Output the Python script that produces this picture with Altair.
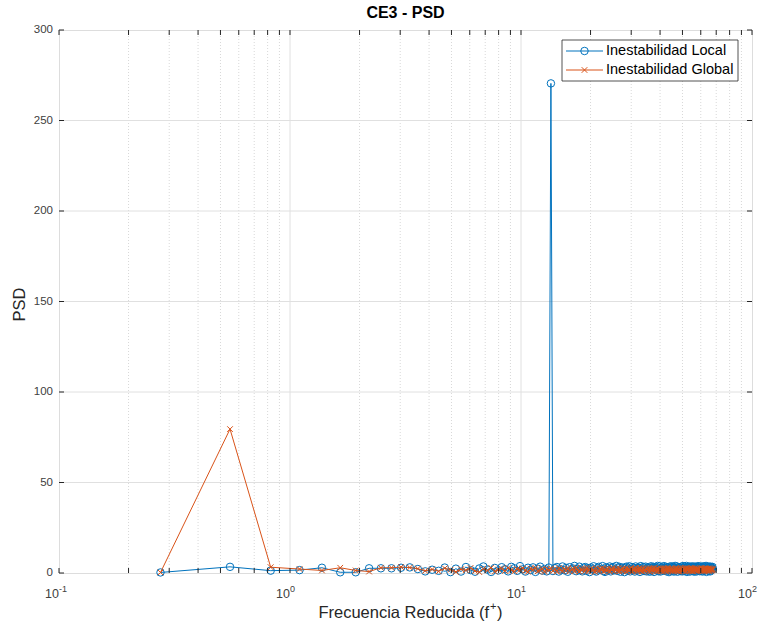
import altair as alt
import pandas as pd

# Reduced frequency bins (f+)
FREQ = [
    0.275, 0.55, 0.825, 1.1, 1.375, 1.65, 1.925, 2.2,
    2.475, 2.75, 3.025, 3.3, 3.575, 3.85, 4.125, 4.4,
    4.675, 4.95, 5.225, 5.5, 5.775, 6.05, 6.325, 6.6,
    6.875, 7.15, 7.425, 7.7, 7.975, 8.25, 8.525, 8.8,
    9.075, 9.35, 9.625, 9.9, 10.175, 10.45, 10.725, 11.0,
    11.275, 11.55, 11.825, 12.1, 12.375, 12.65, 12.925, 13.2,
    13.475, 13.75, 14.025, 14.3, 14.575, 14.85, 15.125, 15.4,
    15.675, 15.95, 16.225, 16.5, 16.775, 17.05, 17.325, 17.6,
    17.875, 18.15, 18.425, 18.7, 18.975, 19.25, 19.525, 19.8,
    20.075, 20.35, 20.625, 20.9, 21.175, 21.45, 21.725, 22.0,
    22.275, 22.55, 22.825, 23.1, 23.375, 23.65, 23.925, 24.2,
    24.475, 24.75, 25.025, 25.3, 25.575, 25.85, 26.125, 26.4,
    26.675, 26.95, 27.225, 27.5, 27.775, 28.05, 28.325, 28.6,
    28.875, 29.15, 29.425, 29.7, 29.975, 30.25, 30.525, 30.8,
    31.075, 31.35, 31.625, 31.9, 32.175, 32.45, 32.725, 33.0,
    33.275, 33.55, 33.825, 34.1, 34.375, 34.65, 34.925, 35.2,
    35.475, 35.75, 36.025, 36.3, 36.575, 36.85, 37.125, 37.4,
    37.675, 37.95, 38.225, 38.5, 38.775, 39.05, 39.325, 39.6,
    39.875, 40.15, 40.425, 40.7, 40.975, 41.25, 41.525, 41.8,
    42.075, 42.35, 42.625, 42.9, 43.175, 43.45, 43.725, 44.0,
    44.275, 44.55, 44.825, 45.1, 45.375, 45.65, 45.925, 46.2,
    46.475, 46.75, 47.025, 47.3, 47.575, 47.85, 48.125, 48.4,
    48.675, 48.95, 49.225, 49.5, 49.775, 50.05, 50.325, 50.6,
    50.875, 51.15, 51.425, 51.7, 51.975, 52.25, 52.525, 52.8,
    53.075, 53.35, 53.625, 53.9, 54.175, 54.45, 54.725, 55.0,
    55.275, 55.55, 55.825, 56.1, 56.375, 56.65, 56.925, 57.2,
    57.475, 57.75, 58.025, 58.3, 58.575, 58.85, 59.125, 59.4,
    59.675, 59.95, 60.225, 60.5, 60.775, 61.05, 61.325, 61.6,
    61.875, 62.15, 62.425, 62.7, 62.975, 63.25, 63.525, 63.8,
    64.075, 64.35, 64.625, 64.9, 65.175, 65.45, 65.725, 66.0,
    66.275, 66.55, 66.825, 67.1, 67.375, 67.65,
]

# PSD - local instability
PSD_LOCAL = [
    0.3, 3.4, 1.3, 1.6, 2.9, 0.4, 0.4, 2.6,
    2.6, 2.6, 2.9, 3.1, 2.2, 0.9, 1.8, 1.2,
    3.0, 0.5, 2.4, 0.8, 3.3, 1.6, 0.7, 2.5,
    3.6, 1.9, 0.6, 2.8, 1.4, 3.2, 2.1, 0.9,
    3.4, 2.6, 1.2, 3.8, 2.0, 0.8, 2.9, 1.7,
    3.1, 0.6, 2.4, 3.5, 1.3, 2.2, 0.9, 3.0,
    270.5, 1.1, 2.7, 3.3, 0.8, 2.0, 3.6, 1.5,
    2.8, 0.7, 3.2, 1.9, 2.5, 3.9, 1.0, 2.3,
    3.5, 1.6, 0.9, 2.9, 3.3, 1.2, 2.6, 0.5,
    3.0, 2.1, 3.7, 1.4, 0.8, 2.7, 3.4, 1.8,
    2.2, 3.8, 1.1, 0.6, 3.1, 2.5, 1.7, 3.6,
    0.9, 2.8, 3.3, 1.5, 2.0, 3.9, 1.2, 2.6,
    3.4, 0.7, 2.3, 3.0, 1.8, 0.5, 2.9, 3.5,
    1.3, 2.4, 3.7, 0.9, 2.1, 3.2, 1.6, 2.8,
    0.8, 3.6, 2.2, 1.4, 3.0, 2.7, 0.6, 3.8,
    1.9, 2.5, 3.3, 1.1, 2.0, 3.5, 0.9, 2.6,
    3.1, 1.5, 0.7, 2.9, 3.7, 1.2, 2.3, 3.4,
    0.6, 2.8, 3.2, 1.7, 2.4, 3.9, 1.0, 2.1,
    3.6, 0.8, 2.6, 3.0, 1.4, 2.2, 3.8, 1.3,
    2.7, 3.4, 0.9, 1.9, 3.1, 2.5, 0.5, 3.5,
    1.6, 2.9, 3.7, 1.1, 2.3, 3.3, 0.8, 2.8,
    3.9, 1.4, 2.0, 3.6, 0.7, 2.6, 3.2, 1.8,
    2.4, 3.0, 1.0, 3.5, 2.1, 0.9, 3.8, 1.5,
    2.7, 3.4, 1.2, 2.2, 3.9, 0.6, 2.9, 3.1,
    1.7, 2.5, 3.6, 0.8, 2.0, 3.3, 1.3, 2.8,
    3.7, 1.1, 2.4, 3.0, 0.7, 3.5, 1.9, 2.6,
    3.2, 0.9, 2.1, 3.8, 1.6, 2.7, 3.4, 1.0,
    2.3, 3.6, 1.4, 2.9, 3.1, 0.8, 2.5, 3.7,
    1.2, 2.8, 3.3, 1.7, 2.0, 3.9, 0.6, 2.4,
    3.5, 1.5, 2.6, 3.0, 1.1, 2.2, 3.6, 0.9,
    2.7, 3.2, 1.8, 2.9, 3.4, 2.1,
]

# PSD - global instability
PSD_GLOBAL = [
    0.3, 79.5, 3.2, 2.2, 1.4, 2.9, 1.4, 0.8,
    2.9, 2.9, 3.3, 3.0, 2.4, 1.2, 2.0, 0.9,
    2.6, 1.8, 0.6, 2.1, 1.5, 2.8, 1.1, 0.5,
    2.3, 1.4, 2.9, 0.8, 1.9, 2.5, 1.2, 2.7,
    1.6, 0.9, 2.2, 1.8, 2.6, 1.3, 0.7, 2.4,
    1.9, 2.8, 1.0, 1.5, 2.3, 0.6, 2.1, 1.7,
    2.5, 1.2, 2.0, 0.8, 2.7, 1.6, 1.1, 2.2,
    1.4, 2.6, 0.9, 1.8, 2.3, 1.0, 2.9, 1.5,
    0.7, 2.1, 1.7, 2.5, 1.2, 2.8, 0.9, 1.9,
    2.4, 1.3, 2.0, 0.6, 2.6, 1.8, 1.1, 2.3,
    1.5, 2.7, 0.8, 2.0, 1.4, 2.5, 1.9, 0.7,
    2.2, 1.6, 2.9, 1.0, 1.8, 2.4, 1.2, 2.6,
    0.9, 2.0, 1.5, 2.7, 1.1, 1.9, 2.5, 0.8,
    2.3, 1.4, 2.1, 1.7, 2.8, 0.7, 1.6, 2.4,
    1.2, 2.6, 1.9, 0.9, 2.2, 1.5, 2.9, 1.3,
    2.0, 0.8, 2.5, 1.7, 1.1, 2.3, 1.8, 2.7,
    1.4, 2.1, 0.7, 2.6, 1.9, 1.2, 2.4, 1.6,
    2.8, 1.0, 1.7, 2.2, 0.9, 2.5, 1.3, 2.0,
    1.8, 2.7, 1.1, 1.5, 2.3, 0.8, 2.6, 1.9,
    1.2, 2.4, 2.0, 0.7, 2.8, 1.6, 1.4, 2.2,
    2.5, 1.3, 1.9, 2.6, 1.0, 2.1, 1.7, 0.9,
    2.3, 1.8, 2.7, 1.2, 1.5, 2.4, 0.8, 2.0,
    1.6, 2.9, 1.1, 2.2, 1.8, 1.4, 2.6, 1.0,
    2.1, 1.5, 2.4, 0.9, 2.7, 1.9, 1.3, 2.5,
    1.8, 2.2, 1.0, 2.6, 1.4, 2.0, 2.8, 1.2,
    2.4, 0.9, 1.7, 2.3, 1.6, 2.7, 1.1, 2.0,
    1.3, 2.5, 2.1, 1.0, 2.4, 1.8, 2.2, 1.5,
    2.6, 1.2, 1.9, 2.8, 1.4, 2.1, 0.9, 2.3,
    1.7, 2.4, 1.1, 2.0, 2.6, 1.5, 2.2, 1.3,
    2.5, 1.9, 1.6, 2.3, 1.0, 2.7, 1.4, 2.1,
    1.8, 2.4, 1.2, 2.0, 1.6, 2.2,
]

SERIES_NAMES = ["Inestabilidad Local", "Inestabilidad Global"]
TITLE = "CE3 - PSD"
# x title is split so the "+" can be drawn as a superscript
X_TITLE_PARTS = ["Frecuencia Reducida (f", "+", ")"]
Y_TITLE = "PSD"
X_MAJOR = [0.1, 1, 10, 100]
X_MAJOR_EXP = ["-1", "0", "1", "2"]
X_MINOR = [0.2, 0.3, 0.4, 0.5, 0.6, 0.7, 0.8, 0.9,
           2, 3, 4, 5, 6, 7, 8, 9,
           20, 30, 40, 50, 60, 70, 80, 90]
Y_TICKS = [0, 50, 100, 150, 200, 250, 300]

BLUE = "#0072BD"
ORANGE = "#D95319"
AXIS = "#262626"
LABEL = "#404040"
GRID = "#e0e0e0"
FONT = "Liberation Sans"
W, H = 693, 543
TICK = 5
X_SHAPE = "M-1,-1L1,1M-1,1L1,-1"

df = pd.DataFrame({"f": FREQ, "local": PSD_LOCAL, "global": PSD_GLOBAL})

xscale = alt.Scale(type="log", domain=[0.1, 100], nice=False)
yscale = alt.Scale(domain=[0, 300], nice=False)
X = alt.X("f:Q", scale=xscale, axis=None)


def Y(field):
    return alt.Y(f"{field}:Q", scale=yscale, axis=None)


# grid: solid at decades / y ticks, dotted at minor log positions
minor_grid = alt.Chart(pd.DataFrame({"f": X_MINOR})).mark_rule(
    color="#d8d8d8", strokeDash=[1, 2], strokeWidth=1
).encode(x=X, y=alt.value(0), y2=alt.value(H))
major_grid = alt.Chart(pd.DataFrame({"f": X_MAJOR[1:3]})).mark_rule(
    color=GRID, strokeWidth=1
).encode(x=X, y=alt.value(0), y2=alt.value(H))
yt_df = pd.DataFrame({"v": Y_TICKS})
y_grid = alt.Chart(pd.DataFrame({"v": Y_TICKS[1:-1]})).mark_rule(
    color=GRID, strokeWidth=1
).encode(y=Y("v"), x=alt.value(0), x2=alt.value(W))

# data series
base = alt.Chart(df)
local_line = base.mark_line(color=BLUE, strokeWidth=1).encode(x=X, y=Y("local"))
local_pts = base.mark_point(
    shape="circle", filled=False, color=BLUE, size=56, strokeWidth=1, opacity=1
).encode(x=X, y=Y("local"))
global_line = base.mark_line(color=ORANGE, strokeWidth=1).encode(x=X, y=Y("global"))
global_pts = base.mark_point(
    shape=X_SHAPE, filled=False, color=ORANGE, size=32, strokeWidth=1, opacity=1
).encode(x=X, y=Y("global"))

# inward ticks on all four sides
xt_df = pd.DataFrame({"f": X_MAJOR + X_MINOR})
xt_bottom = alt.Chart(xt_df).mark_rule(color=AXIS, strokeWidth=1).encode(
    x=X, y=alt.value(H), y2=alt.value(H - TICK))
xt_top = alt.Chart(xt_df).mark_rule(color=AXIS, strokeWidth=1).encode(
    x=X, y=alt.value(0), y2=alt.value(TICK))
yt_left = alt.Chart(yt_df).mark_rule(color=AXIS, strokeWidth=1).encode(
    y=Y("v"), x=alt.value(0), x2=alt.value(TICK))
yt_right = alt.Chart(yt_df).mark_rule(color=AXIS, strokeWidth=1).encode(
    y=Y("v"), x=alt.value(W - TICK), x2=alt.value(W))

# tick labels
xl_df = pd.DataFrame({"f": X_MAJOR, "exp": X_MAJOR_EXP})
xl_base = alt.Chart(xl_df).mark_text(
    font=FONT, fontSize=12.5, color=LABEL, align="right", baseline="alphabetic"
).encode(x=X, y=alt.value(H + 25), text=alt.value("10"))
xl_exp = alt.Chart(xl_df).mark_text(
    font=FONT, fontSize=9, color=LABEL, align="left", baseline="alphabetic"
).encode(x=X, y=alt.value(H + 19), text="exp:N")
yl = alt.Chart(yt_df).mark_text(
    font=FONT, fontSize=11.5, color=LABEL, align="right", baseline="middle", dx=-6
).encode(y=Y("v"), x=alt.value(0), text="v:Q")

# axis titles
title_df = pd.DataFrame({"main": [X_TITLE_PARTS[0]], "sup": [X_TITLE_PARTS[1]],
                         "close": [X_TITLE_PARTS[2]], "y_title": [Y_TITLE]})
x_title_main = alt.Chart(title_df).mark_text(
    font=FONT, fontSize=16.5, color=AXIS, align="right", baseline="alphabetic"
).encode(x=alt.value(430), y=alt.value(H + 45), text="main:N")
x_title_sup = alt.Chart(title_df).mark_text(
    font=FONT, fontSize=11, color=AXIS, align="left", baseline="alphabetic"
).encode(x=alt.value(431), y=alt.value(H + 37), text="sup:N")
x_title_close = alt.Chart(title_df).mark_text(
    font=FONT, fontSize=16.5, color=AXIS, align="left", baseline="alphabetic"
).encode(x=alt.value(438), y=alt.value(H + 45), text="close:N")
y_title = alt.Chart(title_df).mark_text(
    font=FONT, fontSize=16.5, color=AXIS, align="center", baseline="middle", angle=270
).encode(x=alt.value(-39), y=alt.value(H / 2 + 3), text="y_title:N")

# legend box
leg_box = alt.Chart(pd.DataFrame({"name": [SERIES_NAMES[0]]})).mark_rect(
    fill="white", stroke=AXIS, strokeWidth=0.8
).encode(x=alt.value(503), x2=alt.value(679), y=alt.value(10), y2=alt.value(51))

legend_layers = [leg_box]
for name, color, shape, size, ypos in [
    (SERIES_NAMES[0], BLUE, "circle", 56, 21),
    (SERIES_NAMES[1], ORANGE, X_SHAPE, 32, 40),
]:
    ld = pd.DataFrame({"name": [name]})
    legend_layers.append(alt.Chart(ld).mark_rule(color=color, strokeWidth=1).encode(
        x=alt.value(507), x2=alt.value(544), y=alt.value(ypos)))
    legend_layers.append(alt.Chart(ld).mark_point(
        shape=shape, filled=False, color=color, size=size, strokeWidth=1, opacity=1
    ).encode(x=alt.value(525.5), y=alt.value(ypos)))
    legend_layers.append(alt.Chart(ld).mark_text(
        font=FONT, fontSize=14.5, color="#000000", align="left", baseline="middle"
    ).encode(x=alt.value(547), y=alt.value(ypos), text="name:N"))

chart = alt.layer(
    minor_grid, major_grid, y_grid,
    local_line, local_pts, global_line, global_pts,
    xt_bottom, xt_top, yt_left, yt_right,
    xl_base, xl_exp, yl,
    x_title_main, x_title_sup, x_title_close, y_title,
    *legend_layers,
).properties(
    width=W, height=H,
    title=alt.TitleParams(TITLE, fontSize=16, fontWeight="bold", font=FONT,
                          color="#000000", anchor="middle", offset=3),
    padding={"left": 59, "top": 30, "right": 6, "bottom": 54},
    autosize=alt.AutoSizeParams(type="none"),
).configure_view(
    stroke=AXIS, strokeWidth=1
).configure(background="white")

chart.save("out.html", embed_options={"renderer": "svg", "actions": False})
